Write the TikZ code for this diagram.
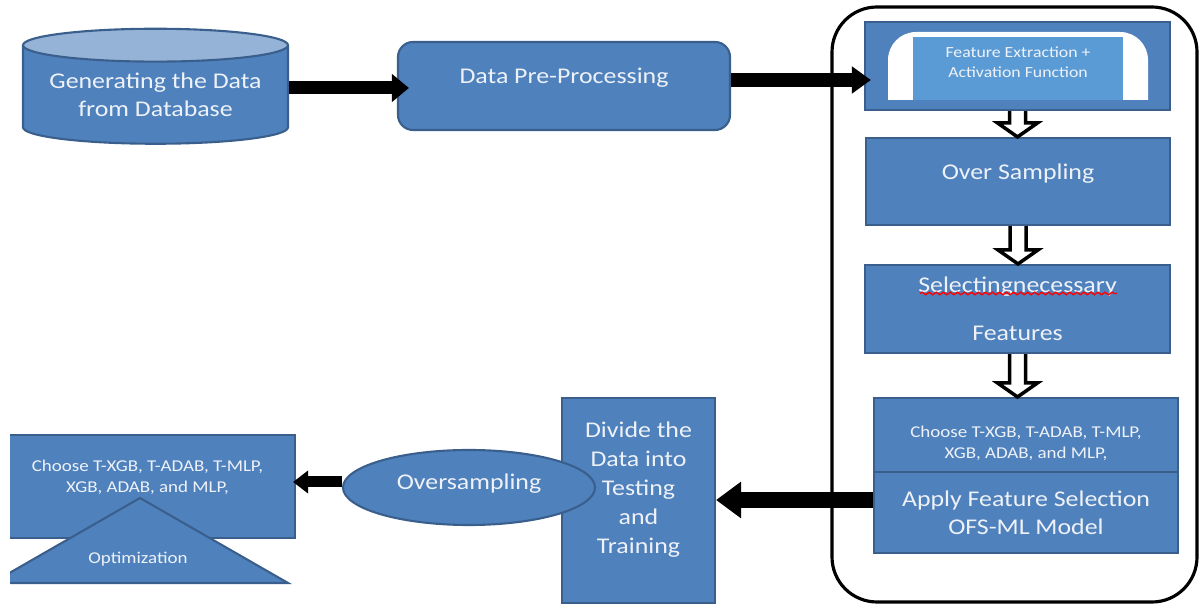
\documentclass[tikz,border=0pt]{standalone}
\usepackage{fontspec}
\setmainfont[FakeStretch=1.15]{Carlito}
\usepackage{tikz}
\usetikzlibrary{arrows.meta,positioning,shapes.geometric,calc,
                 decorations.pathmorphing}
\definecolor{boxblue}{HTML}{4F81BD}
\definecolor{boxedge}{HTML}{3B5F8C}
\definecolor{innerblue}{HTML}{5B9BD5}
\definecolor{captop}{HTML}{95B3D7}
\definecolor{boxtext}{HTML}{EEF2F8}
\newcommand{\mainsz}{\fontsize{6.4}{8}\selectfont}
\newcommand{\smallsz}{\fontsize{4.7}{6}\selectfont}
\newcommand{\tinysz}{\fontsize{4.4}{5.7}\selectfont}
\tikzset{
  procbox/.style={
    rectangle, draw=boxedge, fill=boxblue, line width=0.6pt,
    text=boxtext, font=\mainsz, align=center, inner sep=0pt
  },
  roundproc/.style={procbox, rounded corners=0.15cm},
  ovalbox/.style={procbox, ellipse},
  dbcyl/.style={
    cylinder, shape border rotate=90, aspect=0.155,
    draw=boxedge, line width=0.6pt,
    cylinder uses custom fill, cylinder body fill=boxblue,
    cylinder end fill=captop,
    minimum width=2.65cm, minimum height=1.15cm,
    text=boxtext, font=\mainsz, align=center, inner sep=0pt
  },
  groupbox/.style={
    rectangle, draw=black, line width=0.9pt, rounded corners=0.45cm,
    inner sep=0pt
  },
  blockarrow/.style n args={3}{
    -{Triangle[length=#2, width=#3]}, line width=#1, draw=black
  },
  hollowarr/.style={draw=black, fill=white, line width=1pt, line join=miter},
}
% hollow arrow pointing down from one box to the next
\newcommand{\hollowarrow}[2]{%
  \draw[hollowarr] ($(#1.south)+(-0.08,0)$)
    -- ($(#1.south |- #2.north)+(-0.08,0.14)$)
    -- ($(#1.south |- #2.north)+(-0.2,0.14)$)
    -- (#1.south |- #2.north)
    -- ($(#1.south |- #2.north)+(0.2,0.14)$)
    -- ($(#1.south |- #2.north)+(0.08,0.14)$)
    -- ($(#1.south)+(0.08,0)$);}

\begin{document}
\begin{tikzpicture}
  \useasboundingbox (0,0) rectangle (12.01,-6.07);

  % Right column frame
  \node[groupbox, minimum width=3.65cm, minimum height=5.95cm]
    (frame) at (10.145,-3.045) {};

  % Top row
  \node[dbcyl] (db) at (1.555,-0.95) {Generating the Data\\from Database};
  \node[roundproc, minimum width=3.32cm, minimum height=0.88cm,
        text depth=0.2cm] (prep) at (5.64,-0.86) {Data Pre-Processing};

  % Feature extraction
  \node[procbox, minimum width=3.05cm, minimum height=0.88cm]
    (fxouter) at (10.175,-0.66) {};
  \fill[white] (8.88,-1.00) [rounded corners=0.28cm] -- (8.88,-0.32)
    -- (11.48,-0.32) [sharp corners] -- (11.48,-1.00) -- cycle;
  \node[rectangle, fill=innerblue, text=boxtext, font=\tinysz, align=center,
        minimum width=2.10cm, minimum height=0.63cm, inner sep=0pt,
        text depth=0.12cm]
    (fxinner) at (10.18,-0.685) {Feature Extraction +\\Activation Function};

  % Right column
  \node[procbox, minimum width=3.04cm, minimum height=0.87cm,
        text depth=0.2cm] (over) at (10.18,-1.815) {Over Sampling};
  \node[procbox, minimum width=3.05cm, minimum height=0.88cm]
    (sel) at (10.175,-3.09) {Selectingnecessary\\[5.7pt]Features};
  \draw[red, decorate, decoration={snake, amplitude=0.35pt,
        segment length=2pt}] (9.20,-2.935) -- (11.17,-2.935);
  \node[procbox, font=\smallsz, minimum width=3.04cm, minimum height=0.74cm,
        text height=0.49cm] (choose1) at (10.26,-4.35)
    {Choose T-XGB, T-ADAB, T-MLP,\\XGB, ADAB, and MLP,};
  \node[procbox, minimum width=3.04cm, minimum height=0.81cm]
    (apply1) at (10.26,-5.125) {Apply Feature Selection\\OFS-ML Model};

  % Bottom row
  \node[procbox, font=\fontsize{6.4}{8.25}\selectfont,
        minimum width=1.53cm, minimum height=2.05cm, text depth=0.25cm]
    (divide) at (6.385,-5.005) {Divide the\\Data into\\Testing\\and\\Training};
  \node[ovalbox, minimum width=2.52cm, minimum height=0.75cm,
        text depth=0.12cm] (ovs) at (4.69,-4.875) {Oversampling};

  \begin{scope}
    \clip (0.10,0) rectangle (3.2,-6.07);
    \node[procbox, font=\smallsz, minimum width=2.95cm, minimum height=1.03cm,
          text depth=0.2cm] (choose2) at (1.475,-4.865)
      {Choose T-XGB, T-ADAB, T-MLP,\\XGB, ADAB, and MLP,};
    \draw[draw=boxedge, fill=boxblue, line width=0.6pt]
      (-0.08,-5.83) -- (1.40,-4.98) -- (2.88,-5.83) -- cycle;
  \end{scope}
  \node[text=boxtext, font=\smallsz, inner sep=0pt] (opt) at (1.38,-5.59)
    {Optimization};

  % Connectors
  \coordinate (a1y) at (0,-0.88);
  \coordinate (a2y) at (0,-0.80);
  \coordinate (a6y) at (0,-5.00);
  \coordinate (a7y) at (0,-4.82);
  \draw[blockarrow={0.13cm}{0.17cm}{0.27cm}, shorten >=-0.12cm]
    (db.east |- a1y) -- (prep.west |- a1y);
  \draw[blockarrow={0.14cm}{0.19cm}{0.26cm}, shorten >=-0.07cm]
    (prep.east |- a2y) -- (fxouter.west |- a2y);
  \hollowarrow{fxouter}{over}
  \hollowarrow{over}{sel}
  \hollowarrow{sel}{choose1}
  \draw[blockarrow={0.16cm}{0.25cm}{0.35cm}]
    (apply1.west |- a6y) -- (divide.east |- a6y);
  \draw[blockarrow={0.11cm}{0.15cm}{0.22cm}, shorten >=-0.03cm]
    (ovs.west |- a7y) -- (choose2.east |- a7y);
\end{tikzpicture}
\end{document}
